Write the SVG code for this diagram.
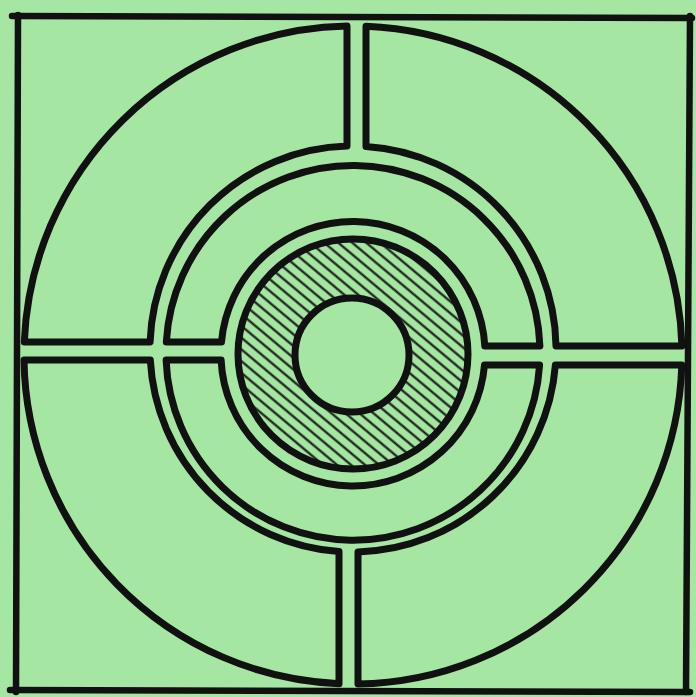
<svg xmlns="http://www.w3.org/2000/svg" width="696" height="697" viewBox="0 0 696 697">
  <defs>
    <pattern id="hatch" patternUnits="userSpaceOnUse" width="9" height="9" patternTransform="rotate(-50)">
      <rect width="9" height="9" fill="#a5e7a2"/>
      <line x1="4.5" y1="0" x2="4.5" y2="9" stroke="#111" stroke-width="2.1"/>
    </pattern>
    <style>
      .bg { fill: #a5e7a2; }
      .ink { fill: #a5e7a2; stroke: #111; stroke-width: 7; stroke-linejoin: round; stroke-linecap: round; }
      .border { fill: none; stroke: #111; stroke-width: 6.5; stroke-linecap: round; }
    </style>
  </defs>
  <rect class="bg" x="0" y="0" width="696" height="697"/>

  <g id="border">
    <line class="border" x1="12" y1="16" x2="692" y2="18"/>
    <line class="border" x1="690" y1="16" x2="686" y2="692"/>
    <line class="border" x1="10" y1="690" x2="690" y2="692"/>
    <line class="border" x1="18" y1="15" x2="16" y2="692"/>
  </g>

  <g id="quadrant-top-left">
    <path class="ink" d="M24.3,342 A329,329 0 0 1 347,26 L347,146.1 A203,203 0 0 0 150.1,342 Z"/>
  </g>
  <g id="quadrant-top-right">
    <path class="ink" d="M366,26.3 A329,329 0 0 1 681.9,346 L556,346 A203,203 0 0 0 366,146.4 Z"/>
  </g>
  <g id="quadrant-bottom-left">
    <path class="ink" d="M24,360 L150.3,360 A203,203 0 0 0 339,551.5 L339,683.7 A329,329 0 0 1 24,360 Z"/>
  </g>
  <g id="quadrant-bottom-right">
    <path class="ink" d="M358,684 L358,551.9 A203,203 0 0 0 555.4,365 L681.8,365 A329,329 0 0 1 358,684 Z"/>
  </g>

  <g id="middle-ring-top">
    <path class="ink" d="M166.3,342 A187,187 0 0 1 539.9,346 L484.8,346 A132,132 0 0 0 221.5,342 Z"/>
  </g>
  <g id="middle-ring-bottom">
    <path class="ink" d="M166.1,360 L221.1,360 A132,132 0 0 0 484.5,365 L539.6,365 A187,187 0 0 1 166.1,360 Z"/>
  </g>

  <g id="hatched-ring">
    <circle cx="353" cy="354" r="115" fill="url(#hatch)" stroke="#111" stroke-width="7"/>
  </g>
  <g id="centre">
    <circle class="ink" cx="352" cy="355" r="57"/>
  </g>

  <g id="connectors"></g>
</svg>
